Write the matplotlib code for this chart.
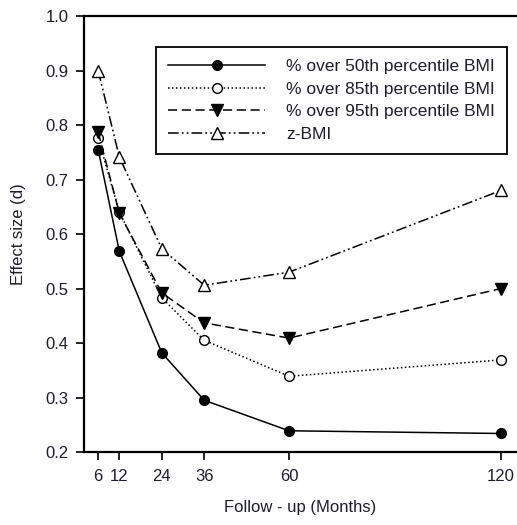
import numpy as np
import matplotlib
matplotlib.use('Agg')
import matplotlib.pyplot as plt

plt.rcParams['font.family'] = ['Liberation Sans', 'DejaVu Sans']

# Dữ liệu
months = [6, 12, 24, 36, 60, 120]
over_50th = [0.755, 0.568, 0.382, 0.295, 0.239, 0.234]
over_85th = [0.776, 0.640, 0.483, 0.405, 0.339, 0.369]
over_95th = [0.787, 0.638, 0.492, 0.437, 0.409, 0.500]
z_bmi = [0.900, 0.741, 0.573, 0.506, 0.530, 0.680]

labels = ['% over 50th percentile BMI', '% over 85th percentile BMI',
          '% over 95th percentile BMI', 'z-BMI']
x_ticks = [6, 12, 24, 36, 60, 120]
y_ticks = [0.2, 0.3, 0.4, 0.5, 0.6, 0.7, 0.8, 0.9, 1.0]

text_color = '#1e1e28'

fig = plt.figure(figsize=(5.17, 5.25), dpi=100)
ax = fig.add_axes([0.1625, 0.139, 0.8375, 0.8305])

lw = 1.1
ms = 7
ax.plot(months, over_50th, color='black', linestyle='-', linewidth=lw,
        marker='o', markersize=ms, markerfacecolor='black', label=labels[0])
ax.plot(months, over_85th, color='black', linestyle=(0, (1, 1.6)), linewidth=lw,
        marker='o', markersize=ms, markerfacecolor='white', label=labels[1])
ax.plot(months, over_95th, color='black', linestyle=(0, (6, 3)), linewidth=lw,
        marker='v', markersize=ms + 1, markerfacecolor='black', label=labels[2])
ax.plot(months, z_bmi, color='black', linestyle=(0, (7, 2, 1.2, 2, 1.2, 2)), linewidth=lw,
        marker='^', markersize=ms + 1, markerfacecolor='white', label=labels[3])

ax.set_xlim(2, 124.5)
ax.set_ylim(0.2, 1.0)
ax.set_xticks(x_ticks)
ax.set_yticks(y_ticks)
ax.set_yticklabels([f'{v:.1f}' for v in y_ticks])

ax.spines['right'].set_visible(False)
for s in ['left', 'bottom', 'top']:
    ax.spines[s].set_linewidth(1.6)
ax.tick_params(axis='both', direction='out', length=6, width=1.2,
               labelsize=12, labelcolor=text_color, pad=5)
ax.tick_params(axis='x', pad=6)

ax.set_xlabel('Follow - up (Months)', fontsize=12, color=text_color, labelpad=12)
ax.set_ylabel('Effect size (d)', fontsize=12, color=text_color, labelpad=14)

leg = ax.legend(loc='upper right', bbox_to_anchor=(0.977, 0.929), borderaxespad=0,
                fontsize=12.5, handlelength=5.6, handletextpad=1.2, labelspacing=0.42,
                fancybox=False, framealpha=1, edgecolor='black', borderpad=0.7)
leg.get_frame().set_linewidth(1.3)
for t in leg.get_texts():
    t.set_color(text_color)

fig.savefig('out.png', dpi=100)
